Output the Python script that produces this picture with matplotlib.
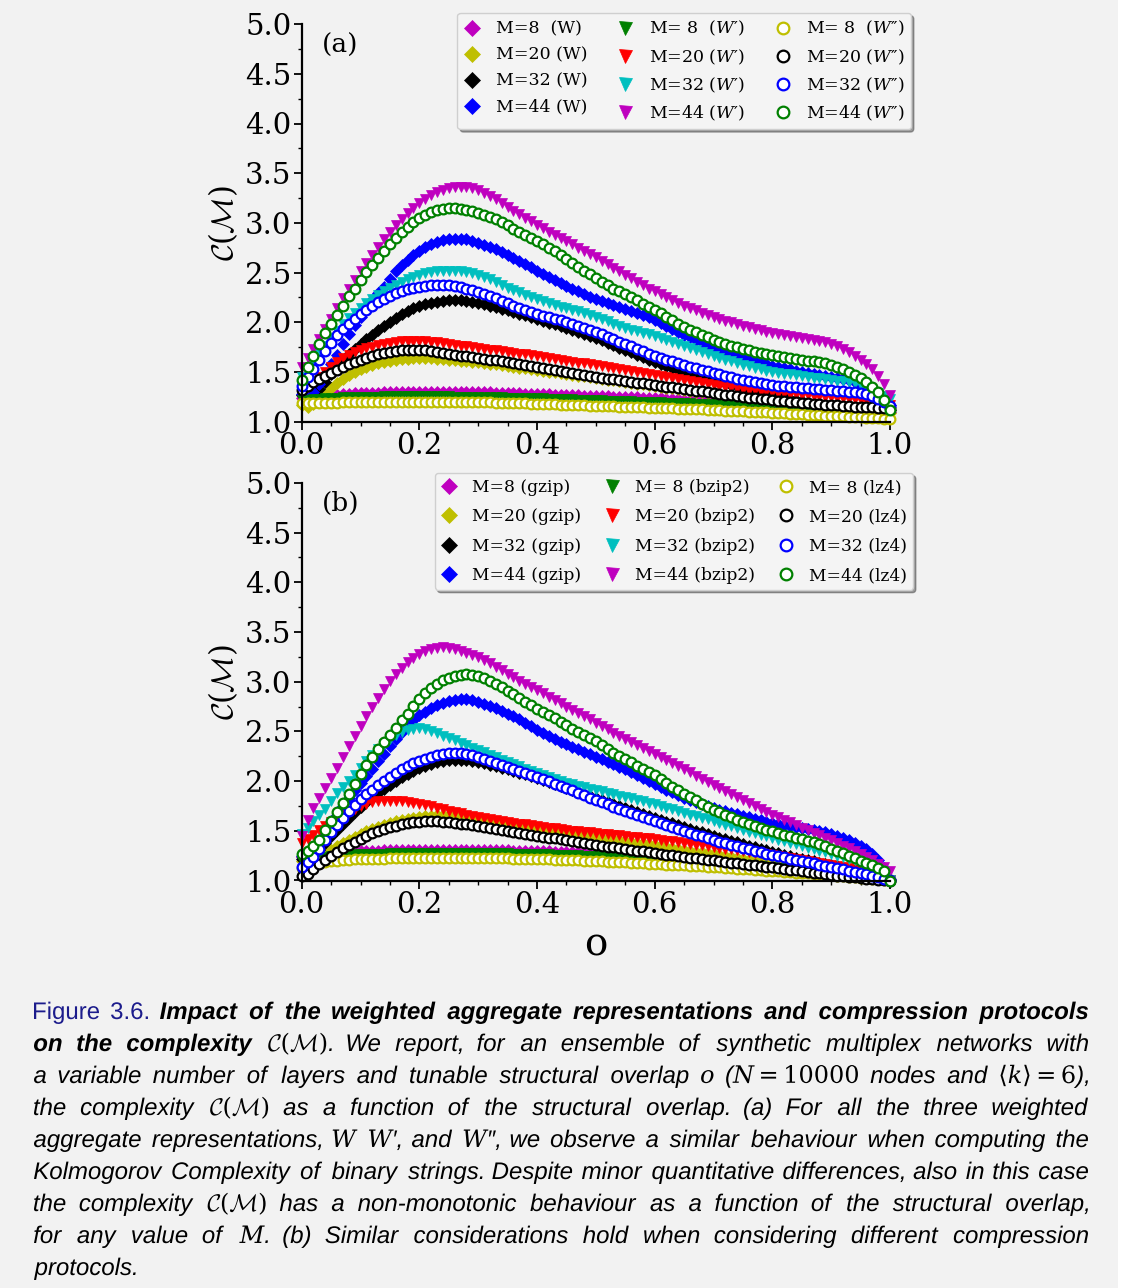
import numpy as np
import matplotlib
matplotlib.use("Agg")
import matplotlib.pyplot as plt
from matplotlib import font_manager as fm
from matplotlib.ticker import MultipleLocator
from matplotlib.patches import Rectangle, PathPatch
from matplotlib.textpath import TextPath
from matplotlib.font_manager import FontProperties
from matplotlib.transforms import Affine2D

# ---------------- data ----------------
overlap = np.round(np.linspace(0.0, 1.0, 101), 2)   # structural overlap o (x grid)
M_values = [8, 20, 32, 44]

# panel (a): weighted aggregate W (diamonds)
a_W_M8 = [1.24,1.25,1.25,1.26,1.26,1.27,1.27,1.28,1.28,1.29,1.29,
          1.29,1.29,1.29,1.30,1.30,1.30,1.30,1.30,1.30,1.30,
          1.30,1.30,1.30,1.30,1.30,1.30,1.30,1.30,1.30,1.30,
          1.30,1.30,1.29,1.29,1.29,1.29,1.29,1.28,1.28,1.28,
          1.28,1.28,1.27,1.27,1.27,1.27,1.27,1.26,1.26,1.26,
          1.26,1.26,1.25,1.25,1.25,1.25,1.25,1.24,1.24,1.24,
          1.24,1.23,1.23,1.23,1.22,1.22,1.22,1.22,1.21,1.21,
          1.21,1.20,1.20,1.20,1.19,1.19,1.19,1.18,1.18,1.18,
          1.18,1.17,1.17,1.17,1.16,1.16,1.16,1.15,1.15,1.15,
          1.14,1.14,1.14,1.13,1.13,1.12,1.12,1.11,1.11,1.10]
a_W_M20 = [1.17,1.15,1.18,1.23,1.29,1.34,1.39,1.43,1.47,1.50,1.53,
           1.55,1.57,1.59,1.60,1.61,1.62,1.63,1.63,1.64,1.64,
           1.64,1.64,1.63,1.63,1.62,1.62,1.61,1.61,1.60,1.60,
           1.59,1.58,1.58,1.57,1.56,1.55,1.54,1.54,1.53,1.52,
           1.51,1.50,1.50,1.49,1.48,1.47,1.46,1.46,1.45,1.44,
           1.43,1.42,1.42,1.41,1.40,1.39,1.38,1.38,1.37,1.36,
           1.35,1.34,1.34,1.33,1.32,1.31,1.30,1.30,1.29,1.28,
           1.27,1.26,1.26,1.25,1.24,1.23,1.23,1.22,1.21,1.21,
           1.20,1.19,1.19,1.18,1.18,1.17,1.17,1.16,1.15,1.15,
           1.14,1.14,1.13,1.13,1.12,1.11,1.11,1.10,1.10,1.09]
a_W_M32 = [1.27,1.26,1.28,1.33,1.40,1.48,1.55,1.62,1.68,1.73,1.78,
           1.83,1.87,1.92,1.96,2.00,2.04,2.08,2.11,2.14,2.16,
           2.18,2.19,2.20,2.21,2.22,2.22,2.22,2.21,2.20,2.19,
           2.18,2.16,2.15,2.13,2.12,2.10,2.08,2.07,2.05,2.03,
           2.01,1.99,1.98,1.96,1.94,1.92,1.90,1.88,1.86,1.84,
           1.82,1.79,1.77,1.74,1.72,1.70,1.67,1.65,1.62,1.60,
           1.58,1.56,1.54,1.52,1.50,1.48,1.47,1.45,1.44,1.42,
           1.40,1.39,1.37,1.36,1.34,1.33,1.31,1.30,1.28,1.27,
           1.26,1.25,1.23,1.22,1.21,1.20,1.19,1.19,1.18,1.17,
           1.16,1.16,1.15,1.15,1.14,1.14,1.13,1.13,1.12,1.12]
a_W_M44 = [1.28,1.27,1.30,1.38,1.48,1.58,1.67,1.78,1.88,1.97,2.05,
           2.14,2.22,2.29,2.36,2.44,2.52,2.58,2.63,2.68,2.72,
           2.76,2.79,2.81,2.83,2.84,2.84,2.84,2.84,2.82,2.80,
           2.78,2.76,2.74,2.71,2.68,2.65,2.62,2.59,2.56,2.52,
           2.49,2.46,2.43,2.40,2.37,2.34,2.31,2.28,2.25,2.23,
           2.21,2.19,2.17,2.15,2.13,2.11,2.09,2.07,2.05,2.02,
           1.99,1.96,1.93,1.90,1.87,1.85,1.82,1.80,1.77,1.75,
           1.73,1.70,1.68,1.66,1.64,1.62,1.61,1.59,1.58,1.56,
           1.55,1.54,1.53,1.51,1.50,1.49,1.48,1.47,1.46,1.45,
           1.44,1.43,1.42,1.40,1.37,1.34,1.31,1.27,1.22,1.17]

# panel (a): W' (triangles)
a_Wp_M8 = [1.22,1.22,1.23,1.23,1.24,1.24,1.24,1.25,1.25,1.25,1.25,
           1.25,1.25,1.25,1.26,1.26,1.26,1.26,1.26,1.26,1.26,
           1.26,1.26,1.26,1.26,1.26,1.25,1.25,1.25,1.25,1.25,
           1.25,1.25,1.25,1.25,1.24,1.24,1.24,1.24,1.24,1.24,
           1.24,1.23,1.23,1.23,1.23,1.23,1.22,1.22,1.22,1.22,
           1.22,1.21,1.21,1.21,1.21,1.21,1.20,1.20,1.20,1.20,
           1.20,1.19,1.19,1.19,1.19,1.19,1.18,1.18,1.18,1.18,
           1.17,1.17,1.17,1.16,1.16,1.16,1.16,1.15,1.15,1.15,
           1.15,1.14,1.14,1.14,1.13,1.13,1.13,1.13,1.12,1.12,
           1.12,1.11,1.11,1.11,1.11,1.10,1.10,1.10,1.09,1.09]
a_Wp_M20 = [1.33,1.35,1.40,1.45,1.50,1.55,1.60,1.64,1.67,1.70,1.72,
            1.74,1.75,1.77,1.78,1.79,1.80,1.81,1.81,1.81,1.81,
            1.81,1.80,1.80,1.79,1.78,1.77,1.76,1.76,1.75,1.74,
            1.73,1.72,1.72,1.71,1.70,1.69,1.68,1.68,1.67,1.66,
            1.65,1.64,1.63,1.62,1.61,1.60,1.59,1.59,1.58,1.57,
            1.56,1.55,1.54,1.53,1.52,1.51,1.50,1.49,1.48,1.47,
            1.46,1.45,1.44,1.43,1.42,1.41,1.40,1.39,1.38,1.37,
            1.36,1.35,1.35,1.34,1.33,1.32,1.32,1.31,1.31,1.30,
            1.29,1.29,1.28,1.28,1.27,1.27,1.26,1.26,1.25,1.25,
            1.24,1.24,1.23,1.23,1.22,1.21,1.20,1.19,1.18,1.17]
a_Wp_M32 = [1.45,1.52,1.60,1.68,1.76,1.84,1.91,1.98,2.04,2.09,2.14,
            2.19,2.23,2.27,2.31,2.35,2.38,2.41,2.44,2.46,2.48,
            2.50,2.51,2.52,2.52,2.52,2.52,2.52,2.51,2.50,2.48,
            2.46,2.44,2.41,2.38,2.35,2.32,2.30,2.27,2.25,2.23,
            2.21,2.19,2.17,2.15,2.14,2.12,2.11,2.09,2.07,2.05,
            2.03,2.01,1.98,1.96,1.94,1.92,1.91,1.89,1.88,1.86,
            1.84,1.82,1.80,1.78,1.76,1.74,1.72,1.70,1.68,1.66,
            1.64,1.62,1.61,1.59,1.57,1.56,1.54,1.53,1.51,1.50,
            1.49,1.48,1.48,1.47,1.46,1.45,1.44,1.44,1.43,1.42,
            1.41,1.41,1.40,1.39,1.37,1.34,1.31,1.29,1.26,1.23]
a_Wp_M44 = [1.55,1.64,1.73,1.83,1.93,2.03,2.14,2.24,2.34,2.43,2.52,
            2.60,2.68,2.76,2.84,2.91,2.98,3.04,3.10,3.15,3.20,
            3.24,3.28,3.31,3.33,3.35,3.36,3.36,3.36,3.35,3.33,
            3.30,3.27,3.24,3.20,3.16,3.12,3.09,3.05,3.02,2.98,
            2.95,2.91,2.88,2.85,2.82,2.79,2.75,2.72,2.69,2.66,
            2.62,2.59,2.55,2.52,2.48,2.45,2.41,2.38,2.34,2.31,
            2.28,2.25,2.22,2.19,2.16,2.14,2.12,2.09,2.07,2.05,
            2.03,2.01,2.00,1.98,1.96,1.95,1.93,1.92,1.90,1.89,
            1.88,1.87,1.86,1.85,1.84,1.83,1.82,1.81,1.80,1.78,
            1.76,1.73,1.70,1.66,1.62,1.58,1.53,1.46,1.38,1.27]

# panel (a): W'' (open circles)
a_Wpp_M8 = [1.19,1.19,1.19,1.19,1.19,1.19,1.19,1.20,1.20,1.20,1.20,
            1.20,1.20,1.20,1.20,1.20,1.20,1.20,1.20,1.20,1.20,
            1.20,1.20,1.20,1.20,1.20,1.20,1.20,1.20,1.20,1.20,
            1.20,1.20,1.19,1.19,1.19,1.19,1.19,1.19,1.18,1.18,
            1.18,1.18,1.18,1.17,1.17,1.17,1.17,1.17,1.16,1.16,
            1.16,1.16,1.16,1.15,1.15,1.15,1.15,1.15,1.14,1.14,
            1.14,1.14,1.14,1.13,1.13,1.13,1.13,1.13,1.12,1.12,
            1.12,1.11,1.11,1.11,1.11,1.10,1.10,1.10,1.10,1.09,
            1.09,1.09,1.08,1.08,1.08,1.07,1.07,1.07,1.06,1.06,
            1.06,1.06,1.05,1.05,1.05,1.04,1.04,1.04,1.03,1.03]
a_Wpp_M20 = [1.32,1.36,1.40,1.43,1.46,1.49,1.52,1.55,1.58,1.60,1.62,
             1.64,1.66,1.68,1.69,1.70,1.71,1.72,1.72,1.72,1.72,
             1.72,1.71,1.70,1.69,1.68,1.67,1.66,1.66,1.65,1.64,
             1.63,1.62,1.62,1.61,1.60,1.59,1.58,1.57,1.56,1.55,
             1.54,1.53,1.52,1.51,1.50,1.49,1.48,1.47,1.46,1.45,
             1.44,1.43,1.43,1.42,1.41,1.40,1.39,1.39,1.38,1.37,
             1.36,1.35,1.35,1.34,1.33,1.32,1.31,1.31,1.30,1.29,
             1.28,1.27,1.27,1.26,1.25,1.24,1.24,1.23,1.23,1.22,
             1.21,1.21,1.20,1.20,1.19,1.19,1.18,1.18,1.17,1.17,
             1.17,1.16,1.16,1.15,1.15,1.15,1.15,1.14,1.14,1.14]
a_Wpp_M32 = [1.36,1.45,1.53,1.62,1.71,1.79,1.87,1.93,1.98,2.03,2.08,
             2.12,2.16,2.20,2.23,2.26,2.29,2.31,2.33,2.35,2.36,
             2.37,2.38,2.38,2.38,2.38,2.37,2.36,2.34,2.32,2.30,
             2.28,2.26,2.24,2.21,2.19,2.16,2.14,2.12,2.10,2.08,
             2.06,2.05,2.03,2.02,2.00,1.98,1.96,1.94,1.92,1.90,
             1.88,1.85,1.83,1.80,1.78,1.76,1.73,1.71,1.68,1.66,
             1.64,1.62,1.61,1.59,1.57,1.55,1.54,1.52,1.51,1.49,
             1.48,1.46,1.45,1.43,1.42,1.41,1.40,1.39,1.38,1.37,
             1.36,1.36,1.35,1.35,1.34,1.34,1.33,1.33,1.32,1.32,
             1.31,1.31,1.30,1.30,1.29,1.28,1.26,1.23,1.20,1.16]
a_Wpp_M44 = [1.42,1.55,1.66,1.78,1.89,1.98,2.07,2.16,2.26,2.34,2.43,
             2.51,2.58,2.65,2.72,2.79,2.85,2.91,2.96,3.01,3.05,
             3.08,3.11,3.13,3.14,3.15,3.15,3.14,3.13,3.12,3.10,
             3.08,3.06,3.04,3.01,2.98,2.94,2.91,2.88,2.85,2.82,
             2.79,2.75,2.72,2.68,2.64,2.60,2.56,2.52,2.49,2.45,
             2.41,2.38,2.34,2.31,2.28,2.25,2.22,2.18,2.15,2.12,
             2.09,2.05,2.02,1.98,1.95,1.92,1.90,1.87,1.85,1.82,
             1.80,1.78,1.76,1.75,1.73,1.72,1.70,1.69,1.68,1.67,
             1.66,1.65,1.64,1.63,1.62,1.61,1.61,1.60,1.59,1.57,
             1.55,1.53,1.50,1.47,1.44,1.40,1.35,1.30,1.22,1.12]

# panel (b): gzip (diamonds)
b_gzip_M8 = [1.24,1.25,1.25,1.26,1.27,1.28,1.28,1.29,1.29,1.30,1.30,
             1.30,1.30,1.30,1.31,1.31,1.31,1.31,1.31,1.31,1.31,
             1.31,1.31,1.31,1.31,1.31,1.31,1.31,1.31,1.31,1.31,
             1.31,1.31,1.31,1.31,1.31,1.30,1.30,1.30,1.30,1.30,
             1.30,1.30,1.29,1.29,1.29,1.29,1.29,1.28,1.28,1.28,
             1.28,1.28,1.27,1.27,1.27,1.27,1.27,1.26,1.26,1.26,
             1.26,1.25,1.25,1.24,1.24,1.24,1.23,1.23,1.22,1.22,
             1.22,1.21,1.21,1.20,1.20,1.19,1.19,1.18,1.18,1.17,
             1.16,1.16,1.15,1.14,1.14,1.13,1.12,1.12,1.11,1.10,
             1.09,1.08,1.07,1.07,1.06,1.05,1.04,1.03,1.02,1.01]
b_gzip_M20 = [1.20,1.18,1.20,1.24,1.28,1.31,1.35,1.38,1.41,1.44,1.47,
              1.50,1.52,1.54,1.56,1.58,1.60,1.61,1.62,1.63,1.64,
              1.65,1.65,1.66,1.66,1.66,1.65,1.65,1.64,1.63,1.62,
              1.61,1.60,1.59,1.58,1.57,1.56,1.55,1.54,1.53,1.52,
              1.51,1.50,1.50,1.49,1.48,1.47,1.46,1.46,1.45,1.44,
              1.43,1.42,1.42,1.41,1.40,1.39,1.38,1.38,1.37,1.36,
              1.35,1.34,1.33,1.32,1.31,1.30,1.29,1.29,1.28,1.27,
              1.26,1.25,1.24,1.23,1.22,1.21,1.20,1.20,1.19,1.18,
              1.17,1.16,1.16,1.15,1.14,1.13,1.12,1.12,1.11,1.10,
              1.09,1.08,1.08,1.07,1.06,1.05,1.04,1.03,1.02,1.00]
b_gzip_M32 = [1.22,1.20,1.24,1.31,1.38,1.45,1.51,1.57,1.63,1.69,1.74,
              1.79,1.83,1.88,1.92,1.96,2.00,2.04,2.07,2.10,2.13,
              2.15,2.17,2.19,2.20,2.21,2.21,2.21,2.21,2.20,2.19,
              2.18,2.16,2.15,2.13,2.12,2.10,2.08,2.07,2.05,2.03,
              2.01,1.99,1.97,1.95,1.93,1.91,1.89,1.87,1.85,1.83,
              1.81,1.79,1.77,1.75,1.73,1.71,1.69,1.67,1.65,1.63,
              1.61,1.59,1.58,1.56,1.54,1.52,1.50,1.49,1.47,1.45,
              1.43,1.42,1.40,1.39,1.37,1.35,1.34,1.32,1.31,1.29,
              1.28,1.26,1.25,1.23,1.22,1.21,1.20,1.18,1.17,1.16,
              1.15,1.13,1.12,1.11,1.09,1.08,1.06,1.05,1.03,1.01]
b_gzip_M44 = [1.25,1.24,1.30,1.39,1.48,1.57,1.66,1.75,1.83,1.91,1.98,
              2.05,2.12,2.20,2.27,2.35,2.42,2.49,2.56,2.61,2.66,
              2.70,2.74,2.77,2.79,2.81,2.82,2.83,2.83,2.82,2.80,
              2.78,2.76,2.74,2.71,2.68,2.65,2.62,2.58,2.55,2.51,
              2.48,2.45,2.42,2.39,2.37,2.34,2.32,2.29,2.27,2.24,
              2.22,2.19,2.17,2.14,2.12,2.09,2.06,2.03,2.00,1.97,
              1.94,1.91,1.89,1.86,1.83,1.81,1.79,1.77,1.75,1.73,
              1.71,1.70,1.68,1.67,1.65,1.64,1.62,1.61,1.59,1.58,
              1.57,1.56,1.55,1.54,1.53,1.52,1.51,1.50,1.49,1.47,
              1.45,1.43,1.41,1.38,1.35,1.32,1.27,1.21,1.13,1.02]

# panel (b): bzip2 (triangles)
b_bzip2_M8 = [1.20,1.21,1.22,1.23,1.24,1.25,1.25,1.26,1.26,1.27,1.27,
              1.27,1.27,1.27,1.27,1.28,1.28,1.28,1.28,1.28,1.28,
              1.28,1.28,1.28,1.28,1.28,1.28,1.28,1.28,1.28,1.28,
              1.28,1.28,1.28,1.28,1.28,1.27,1.27,1.27,1.27,1.27,
              1.27,1.27,1.26,1.26,1.26,1.26,1.26,1.25,1.25,1.25,
              1.25,1.24,1.24,1.24,1.24,1.23,1.23,1.23,1.22,1.22,
              1.22,1.21,1.21,1.21,1.20,1.20,1.20,1.20,1.19,1.19,
              1.18,1.18,1.17,1.17,1.16,1.16,1.15,1.15,1.14,1.14,
              1.13,1.13,1.12,1.12,1.11,1.11,1.10,1.09,1.09,1.08,
              1.07,1.07,1.06,1.05,1.04,1.04,1.03,1.02,1.01,1.00]
b_bzip2_M20 = [1.38,1.42,1.46,1.51,1.55,1.59,1.63,1.66,1.69,1.72,1.75,
               1.77,1.79,1.80,1.80,1.80,1.80,1.80,1.79,1.78,1.77,
               1.76,1.75,1.73,1.72,1.70,1.69,1.68,1.66,1.65,1.64,
               1.63,1.62,1.61,1.60,1.59,1.58,1.57,1.57,1.56,1.55,
               1.54,1.53,1.53,1.52,1.51,1.50,1.50,1.49,1.49,1.48,
               1.47,1.47,1.46,1.46,1.45,1.44,1.44,1.43,1.43,1.42,
               1.41,1.40,1.40,1.39,1.38,1.37,1.36,1.36,1.35,1.34,
               1.33,1.32,1.32,1.31,1.30,1.29,1.28,1.28,1.27,1.26,
               1.25,1.24,1.23,1.22,1.21,1.20,1.19,1.18,1.17,1.16,
               1.15,1.14,1.13,1.11,1.10,1.08,1.06,1.04,1.02,1.00]
b_bzip2_M32 = [1.47,1.53,1.60,1.66,1.72,1.80,1.88,1.94,2.00,2.06,2.13,
               2.20,2.26,2.32,2.37,2.42,2.46,2.49,2.51,2.52,2.53,
               2.52,2.50,2.48,2.45,2.43,2.41,2.38,2.36,2.33,2.31,
               2.29,2.26,2.24,2.21,2.19,2.17,2.15,2.12,2.10,2.08,
               2.06,2.04,2.02,2.00,1.98,1.97,1.95,1.94,1.92,1.91,
               1.90,1.88,1.87,1.85,1.84,1.83,1.81,1.80,1.78,1.77,
               1.75,1.73,1.72,1.70,1.68,1.66,1.65,1.63,1.62,1.60,
               1.58,1.56,1.55,1.53,1.51,1.49,1.48,1.46,1.45,1.43,
               1.41,1.40,1.38,1.37,1.35,1.33,1.32,1.30,1.29,1.27,
               1.25,1.24,1.22,1.21,1.19,1.17,1.15,1.12,1.08,1.00]
b_bzip2_M44 = [1.45,1.61,1.73,1.83,1.93,2.03,2.13,2.24,2.35,2.45,2.55,
               2.65,2.75,2.84,2.93,3.01,3.08,3.14,3.20,3.24,3.28,
               3.31,3.33,3.34,3.35,3.34,3.33,3.31,3.29,3.27,3.25,
               3.22,3.19,3.15,3.12,3.08,3.05,3.01,2.98,2.95,2.92,
               2.89,2.85,2.82,2.79,2.75,2.72,2.69,2.65,2.62,2.58,
               2.55,2.52,2.48,2.45,2.42,2.39,2.36,2.33,2.30,2.27,
               2.24,2.21,2.18,2.15,2.12,2.09,2.05,2.02,1.99,1.96,
               1.93,1.90,1.87,1.84,1.81,1.78,1.75,1.72,1.69,1.66,
               1.64,1.61,1.59,1.56,1.53,1.51,1.48,1.46,1.43,1.41,
               1.38,1.35,1.33,1.30,1.27,1.24,1.21,1.17,1.14,1.10]

# panel (b): lz4 (open circles)
b_lz4_M8 = [1.13,1.15,1.17,1.18,1.19,1.20,1.20,1.21,1.21,1.22,1.22,
            1.22,1.22,1.22,1.22,1.23,1.23,1.23,1.23,1.23,1.23,
            1.23,1.23,1.23,1.23,1.23,1.23,1.23,1.23,1.23,1.23,
            1.23,1.23,1.23,1.23,1.23,1.22,1.22,1.22,1.22,1.22,
            1.22,1.22,1.21,1.21,1.21,1.21,1.21,1.20,1.20,1.20,
            1.20,1.19,1.19,1.19,1.19,1.18,1.18,1.18,1.17,1.17,
            1.17,1.16,1.16,1.16,1.16,1.15,1.15,1.15,1.14,1.14,
            1.14,1.13,1.13,1.12,1.12,1.12,1.11,1.11,1.10,1.10,
            1.10,1.09,1.09,1.08,1.08,1.08,1.07,1.07,1.06,1.06,
            1.05,1.05,1.04,1.04,1.03,1.03,1.02,1.02,1.01,1.00]
b_lz4_M20 = [1.05,1.07,1.12,1.17,1.21,1.25,1.29,1.33,1.36,1.39,1.42,
             1.45,1.48,1.50,1.52,1.54,1.55,1.57,1.58,1.59,1.59,
             1.60,1.60,1.60,1.59,1.59,1.58,1.57,1.57,1.56,1.55,
             1.54,1.53,1.52,1.51,1.50,1.49,1.48,1.47,1.46,1.45,
             1.44,1.43,1.43,1.42,1.41,1.40,1.39,1.38,1.37,1.36,
             1.35,1.34,1.34,1.33,1.32,1.31,1.30,1.30,1.29,1.28,
             1.27,1.26,1.26,1.25,1.24,1.23,1.23,1.22,1.21,1.21,
             1.20,1.19,1.18,1.18,1.17,1.16,1.16,1.15,1.14,1.14,
             1.13,1.12,1.11,1.11,1.10,1.09,1.08,1.08,1.07,1.06,
             1.05,1.05,1.04,1.04,1.03,1.02,1.02,1.01,1.00,0.99]
b_lz4_M32 = [1.14,1.19,1.24,1.32,1.41,1.49,1.56,1.63,1.70,1.76,1.82,
             1.87,1.91,1.96,2.00,2.04,2.08,2.12,2.15,2.18,2.20,
             2.22,2.24,2.26,2.27,2.28,2.28,2.28,2.27,2.26,2.24,
             2.22,2.20,2.18,2.16,2.14,2.12,2.10,2.08,2.06,2.04,
             2.02,2.00,1.97,1.95,1.93,1.91,1.88,1.86,1.83,1.81,
             1.79,1.77,1.74,1.72,1.70,1.68,1.66,1.64,1.62,1.60,
             1.58,1.56,1.54,1.52,1.50,1.48,1.46,1.45,1.43,1.41,
             1.39,1.38,1.36,1.35,1.33,1.32,1.30,1.29,1.27,1.26,
             1.25,1.24,1.22,1.21,1.20,1.19,1.18,1.16,1.15,1.14,
             1.13,1.12,1.10,1.09,1.08,1.07,1.05,1.04,1.02,1.00]
b_lz4_M44 = [1.27,1.30,1.35,1.41,1.51,1.60,1.69,1.78,1.87,1.97,2.07,
             2.16,2.24,2.32,2.39,2.46,2.53,2.61,2.68,2.76,2.83,
             2.89,2.94,2.98,3.02,3.04,3.06,3.07,3.08,3.07,3.06,
             3.04,3.01,2.98,2.95,2.91,2.88,2.84,2.80,2.77,2.73,
             2.70,2.66,2.63,2.59,2.56,2.52,2.49,2.46,2.43,2.40,
             2.36,2.32,2.28,2.25,2.22,2.19,2.15,2.12,2.09,2.06,
             2.02,1.98,1.94,1.91,1.87,1.84,1.81,1.77,1.74,1.71,
             1.69,1.66,1.64,1.61,1.59,1.57,1.55,1.53,1.51,1.50,
             1.48,1.46,1.45,1.43,1.42,1.40,1.39,1.37,1.35,1.32,
             1.30,1.28,1.25,1.23,1.20,1.18,1.16,1.13,1.10,0.99]

legend_a_labels = ["M=8  (W)", "M=20 (W)", "M=32 (W)", "M=44 (W)",
                   "M= 8  ($W$\u2032)", "M=20 ($W$\u2032)", "M=32 ($W$\u2032)", "M=44 ($W$\u2032)",
                   "M= 8  ($W$\u2033)", "M=20 ($W$\u2033)", "M=32 ($W$\u2033)", "M=44 ($W$\u2033)"]
legend_b_labels = ["M=8 (gzip)", "M=20 (gzip)", "M=32 (gzip)", "M=44 (gzip)",
                   "M= 8 (bzip2)", "M=20 (bzip2)", "M=32 (bzip2)", "M=44 (bzip2)",
                   "M= 8 (lz4)", "M=20 (lz4)", "M=32 (lz4)", "M=44 (lz4)"]
y_ticks = [1.0, 1.5, 2.0, 2.5, 3.0, 3.5, 4.0, 4.5, 5.0]
x_ticks = [0.0, 0.2, 0.4, 0.6, 0.8, 1.0]

series_a = [a_W_M8, a_W_M20, a_W_M32, a_W_M44,
            a_Wp_M8, a_Wp_M20, a_Wp_M32, a_Wp_M44,
            a_Wpp_M8, a_Wpp_M20, a_Wpp_M32, a_Wpp_M44]
series_b = [b_gzip_M8, b_gzip_M20, b_gzip_M32, b_gzip_M44,
            b_bzip2_M8, b_bzip2_M20, b_bzip2_M32, b_bzip2_M44,
            b_lz4_M8, b_lz4_M20, b_lz4_M32, b_lz4_M44]
for s in series_a + series_b:
    assert len(s) == len(overlap), len(s)

# ---------------- style ----------------
plt.rcParams['font.family'] = ['DejaVu Serif']
plt.rcParams['mathtext.fontset'] = 'custom'
plt.rcParams['mathtext.rm'] = 'DejaVu Serif'
plt.rcParams['mathtext.it'] = 'DejaVu Serif:italic'
plt.rcParams['mathtext.bf'] = 'DejaVu Serif:bold'
plt.rcParams['mathtext.cal'] = 'cmsy10'

BG = '#f2f2f2'
W, H = 1125, 1288
fig = plt.figure(figsize=(W / 100, H / 100), dpi=100, facecolor=BG)

def rect(l, r, t, b):
    return [l / W, 1 - b / H, (r - l) / W, (b - t) / H]

axA = fig.add_axes(rect(301.7, 890.0, 24.1, 421.7))
axB = fig.add_axes(rect(301.7, 890.0, 482.9, 880.5))

groups = [
    dict(marker='D', ms=6.5, colors=['m', 'y', 'k', 'b'], open=False),
    dict(marker='v', ms=7.8, colors=['g', 'r', 'c', 'm'], open=False),
    dict(marker='o', ms=7.0, colors=['y', 'k', 'b', 'g'], open=True),
]

def draw(ax, series, labels):
    handles = []
    for gi, g in enumerate(groups):
        for mi in range(4):
            k = gi * 4 + mi
            c = g['colors'][mi]
            if g['open']:
                ln, = ax.plot(overlap, series[k], linestyle='none', marker='o', ms=g['ms'],
                              mfc='white', mec=c, mew=1.6, clip_on=False, label=labels[k])
            else:
                ln, = ax.plot(overlap, series[k], linestyle='none', marker=g['marker'], ms=g['ms'],
                              color=c, mec=c, mew=0.5, clip_on=False, label=labels[k])
            handles.append(ln)
    ax.set_facecolor('none')
    ax.set_xlim(0, 1)
    ax.set_ylim(1.0, 5.0)
    for sp in ['top', 'right']:
        ax.spines[sp].set_visible(False)
    for sp in ['left', 'bottom']:
        ax.spines[sp].set_linewidth(1.6)
    ax.set_xticks(x_ticks)
    ax.set_yticks(y_ticks)
    ax.set_xticklabels([f"{v:.1f}" for v in x_ticks])
    ax.set_yticklabels([f"{v:.1f}" for v in y_ticks])
    ax.xaxis.set_minor_locator(MultipleLocator(0.05))
    ax.yaxis.set_minor_locator(MultipleLocator(0.25))
    ax.tick_params(which='major', direction='out', length=5.5, width=1.3, labelsize=21, pad=2)
    ax.tick_params(which='minor', direction='out', length=3, width=1.0)
    ax.set_ylabel(r'$\mathcal{C}(\mathcal{M})$', fontsize=22)
    ax.yaxis.set_label_coords(-0.105, 0.5)
    return handles

hA = draw(axA, series_a, legend_a_labels)
hB = draw(axB, series_b, legend_b_labels)

leg_kw = dict(ncol=3, loc='upper right', bbox_transform=fig.transFigure, borderaxespad=0,
              numpoints=1, handlelength=1.0, handletextpad=0.85, markerscale=1.2,
              borderpad=0.35, fancybox=True, shadow=True,
              framealpha=1.0, facecolor='#f4f4f4', edgecolor='#cfcfcf')
axA.legend(handles=hA, labels=legend_a_labels, bbox_to_anchor=(911 / W, 1 - 13 / H),
           fontsize=12.5, columnspacing=1.7, labelspacing=0.52, **leg_kw)
axB.legend(handles=hB, labels=legend_b_labels, bbox_to_anchor=(913 / W, 1 - 473 / H),
           fontsize=12.3, columnspacing=1.3, labelspacing=0.72, **leg_kw)

axA.text(0.035, 0.947, '(a)', transform=axA.transAxes, fontsize=19, va='center', ha='left')
axB.text(0.035, 0.949, '(b)', transform=axB.transAxes, fontsize=19, va='center', ha='left')

axB.set_xlabel('o', fontsize=28)
axB.xaxis.label.set_va('baseline')
axB.xaxis.set_label_coords(0.5, (880.5 - 955) / 397.6)

# ---------------- caption (justified, drawn as glyph paths) ----------------
avail = {f.name for f in fm.fontManager.ttflist}
cap_family = 'Liberation Sans Narrow' if 'Liberation Sans Narrow' in avail else 'Liberation Sans'

cap_lines = [
    [("Figure 3.6.", 'fig'), ("Impact of the weighted aggregate representations and compression protocols", 'bi')],
    [("on the complexity", 'bi'), (r"$\mathcal{C}(\mathcal{M})$.", 'math'),
     ("We report, for an ensemble of synthetic multiplex networks with", 'i')],
    [("a variable number of layers and tunable structural overlap", 'i'), (r"$o$", 'math'),
     (r"($N = 10000$", 'math'), ("nodes and", 'i'), (r"$\langle k\rangle = 6$),", 'math')],
    [("the complexity", 'i'), (r"$\mathcal{C}(\mathcal{M})$", 'math'),
     ("as a function of the structural overlap.  (a) For all the three weighted", 'i')],
    [("aggregate representations,", 'i'), (r"$W$", 'math'), ("$W$\u2032,", 'math'), ("and", 'i'),
     ("$W$\u2033,", 'math'), ("we observe a similar behaviour when computing the", 'i')],
    [("Kolmogorov Complexity of binary strings.  Despite minor quantitative differences, also in this case", 'i')],
    [("the complexity", 'i'), (r"$\mathcal{C}(\mathcal{M})$", 'math'),
     ("has a non-monotonic behaviour as a function of the structural overlap,", 'i')],
    [("for any value of", 'i'), (r"$M$.", 'math'),
     ("(b) Similar considerations hold when considering different compression", 'i')],
    [("protocols.", 'i')],
]
styles = {
    'fig': dict(color='#1c1c8c', style='normal', weight='normal'),
    'bi': dict(color='black', style='italic', weight='bold'),
    'i': dict(color='black', style='italic', weight='normal'),
    'math': dict(color='black', style='italic', weight='normal'),
}

def tokens(line):
    out = []
    for s, st in line:
        if st == 'math':
            out.append((s, st))
        else:
            out.extend((w, st) for w in s.split())
    return out

CAP_PX = 24.0            # em size in pixels
cap_left, cap_right = 34.0, 1088.0
baselines = [1019 + 32 * i for i in range(len(cap_lines))]

line_paths = []
for line in cap_lines:
    items = []
    for w, st in tokens(line):
        sty = styles[st]
        fp = FontProperties(family=cap_family, style=sty['style'], weight=sty['weight'])
        p = TextPath((0, 0), w, size=CAP_PX, prop=fp)
        ext = p.get_extents()
        items.append((p, ext.x0, ext.width, sty['color']))
    line_paths.append(items)

min_gap = 6.0
sx = 1.0
for items in line_paths[:-1]:
    tot = sum(it[2] for it in items)
    avail_w = (cap_right - cap_left) - min_gap * (len(items) - 1)
    sx = min(sx, avail_w / tot)

for li, items in enumerate(line_paths):
    n = len(items)
    tot = sum(it[2] for it in items) * sx
    if li < len(line_paths) - 1 and n > 1:
        gap = ((cap_right - cap_left) - tot) / (n - 1)
    else:
        gap = 7.0
    x = cap_left
    ybase = H - baselines[li]
    for p, x0, wd, col in items:
        tr = Affine2D().translate(-x0, 0).scale(sx, 1).translate(x, ybase)
        patch = PathPatch(p, transform=tr, facecolor=col, edgecolor='none', lw=0)
        fig.add_artist(patch)
        x += wd * sx + gap

fig.patches.append(Rectangle((1118 / W, 0), 7 / W, 1, transform=fig.transFigure,
                             facecolor='white', edgecolor='none', zorder=-1))

fig.savefig('out.png', dpi=100, facecolor=BG)
